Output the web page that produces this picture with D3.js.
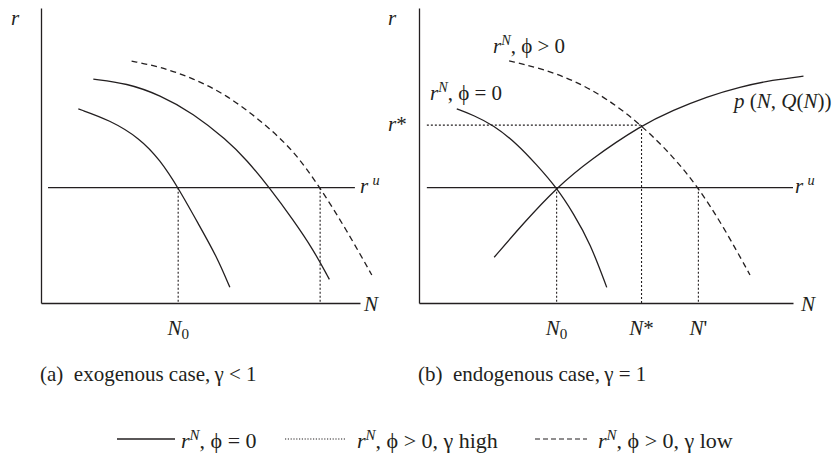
<!DOCTYPE html>
<html>
<head>
<meta charset="utf-8">
<script src="https://cdn.jsdelivr.net/npm/d3@7"></script>
<style>
  body { margin: 0; background: #fff; }
  svg text { font-family: "Liberation Serif", "Times New Roman", Times, serif; fill: #231f20; }
</style>
</head>
<body>
<svg id="chart" width="836" height="456"></svg>
<script>
// ---- data (N on 0..100, r on 0..100) ----
const ruLevel = 39.1;      // r^u, both panels
const rStar = 60.3;        // r*, panel (b)

// panel (a)
const aInner = [[11.7,65.8],[21.6,62.0],[31.0,55.8],[37.3,48.5],[43.0,39.1],[49.8,25.9],[55.1,15.7],[59.2,5.3]];
const aMiddle = [[16.4,75.9],[26.9,74.5],[37.3,70.5],[47.7,64.3],[58.2,55.3],[64.5,48.5],[71.6,39.1],[79.1,28.1],[85.4,18.0],[90.4,8.0]];
const aDashed = [[28.4,82.0],[37.3,80.1],[47.7,76.2],[58.2,70.5],[68.7,62.0],[79.1,51.9],[87.5,39.1],[95.8,24.7],[103.7,9.5]];
const aDrops = [43.0, 87.5];
const aTickLabels = [{ n: 43.0, name: 'N', sub: '0' }];

// panel (b)
const bSolid = [[10.1,65.8],[14.5,63.7],[19.9,60.3],[26.1,54.1],[31.5,46.8],[36.8,39.1],[41.3,30.4],[45.8,20.2],[50.2,5.3]];
const bPrice = [[20.1,15.5],[27.9,27.0],[36.8,39.1],[45.7,48.5],[59.5,60.3],[68.0,65.4],[76.9,69.9],[85.8,73.3],[94.7,75.6],[102.8,76.9]];
const bDashed = [[24.1,82.1],[32.4,79.6],[41.3,75.6],[50.2,69.4],[59.5,60.3],[68.0,49.6],[74.7,39.1],[81.4,25.9],[88.5,9.5]];
const bDropsRu = [36.8, 74.7];
const bDropStar = 59.5;
const bTickLabels = [
  { n: 36.8, name: 'N', sub: '0' },
  { n: 59.5, name: 'N', tail: '*' },
  { n: 74.7, name: 'N', tail: "'" }
];

const INK = '#231f20';
const FONT = '"Liberation Serif", "Times New Roman", Times, serif';
const svg = d3.select('#chart');

const y = d3.scaleLinear().domain([0, 100]).range([303, 8]);
const xA = d3.scaleLinear().domain([0, 100]).range([41, 360]);
const xB = d3.scaleLinear().domain([0, 100]).range([419, 793]);

// rich text: parts = [{t, i, sup, sub}]
function richText(g, x, yy, parts, size = 21, anchor = 'start') {
  const t = g.append('text').attr('x', x).attr('y', yy)
    .attr('font-family', FONT)
    .attr('font-size', size).attr('text-anchor', anchor);
  let shift = 0;
  parts.forEach(p => {
    const s = t.append('tspan').text(p.t);
    if (p.i) s.attr('font-style', 'italic');
    let target = 0;
    if (p.sup) { target = -8; s.attr('font-size', size * 0.68); }
    if (p.sub) { target = 4; s.attr('font-size', size * 0.72); }
    if (target !== shift) { s.attr('dy', target - shift); shift = target; }
  });
  return t;
}

function panel(x, opts) {
  const g = svg.append('g');
  const line = d3.line().x(d => x(d[0])).y(d => y(d[1])).curve(d3.curveBasis);

  g.append('g').attr('transform', `translate(0,${y(0)})`)
    .call(d3.axisBottom(x).tickValues([]).tickSizeOuter(0));
  g.append('g').attr('transform', `translate(${x(0)},0)`)
    .call(d3.axisLeft(y).tickValues([]).tickSizeOuter(0));
  g.selectAll('.domain').attr('stroke', INK).attr('stroke-width', 1.3);

  // r^u line
  g.append('line')
    .attr('x1', x(opts.ruFrom)).attr('x2', x(opts.ruTo))
    .attr('y1', y(ruLevel)).attr('y2', y(ruLevel))
    .attr('stroke', INK).attr('stroke-width', 1.3);

  opts.curves.forEach(c => {
    g.append('path').datum(c.data).attr('d', line)
      .attr('fill', 'none').attr('stroke', INK).attr('stroke-width', 1.3)
      .attr('stroke-dasharray', c.dash || null);
  });

  opts.drops.forEach(d => {
    g.append('line')
      .attr('x1', x(d.n)).attr('x2', x(d.n))
      .attr('y1', y(d.r)).attr('y2', y(0))
      .attr('stroke', INK).attr('stroke-width', 1.1).attr('stroke-dasharray', '2,2');
  });

  opts.ticks.forEach(t => {
    const parts = [{ t: t.name, i: true }];
    if (t.sub) parts.push({ t: t.sub, sub: true });
    if (t.tail) parts.push({ t: t.tail });
    richText(g, x(t.n), 335, parts, 21, 'middle');
  });
  return g;
}

const gA = panel(xA, {
  ruFrom: 2.2, ruTo: 98.4,
  curves: [{ data: aInner }, { data: aMiddle }, { data: aDashed, dash: '6,4' }],
  drops: aDrops.map(n => ({ n, r: ruLevel })),
  ticks: aTickLabels
});
richText(gA, 11, 25, [{ t: 'r', i: true }]);
richText(gA, 364, 311, [{ t: 'N', i: true }]);
richText(gA, 360, 193, [{ t: 'r', i: true }, { t: '\u2009' }, { t: 'u', i: true, sup: true }]);

const gB = panel(xB, {
  ruFrom: 2.1, ruTo: 100,
  curves: [{ data: bSolid }, { data: bPrice }, { data: bDashed, dash: '6,4' }],
  drops: bDropsRu.map(n => ({ n, r: ruLevel })).concat([{ n: bDropStar, r: rStar }]),
  ticks: bTickLabels
});
gB.append('line')
  .attr('x1', xB(2.1)).attr('x2', xB(bDropStar))
  .attr('y1', y(rStar)).attr('y2', y(rStar))
  .attr('stroke', INK).attr('stroke-width', 1.1).attr('stroke-dasharray', '2,2');
richText(gB, 388, 25, [{ t: 'r', i: true }]);
richText(gB, 388, y(rStar) + 6, [{ t: 'r', i: true }, { t: '*' }]);
richText(gB, 801, 311, [{ t: 'N', i: true }]);
richText(gB, 795, 193, [{ t: 'r', i: true }, { t: '\u2009' }, { t: 'u', i: true, sup: true }]);
richText(gB, 493, 53, [{ t: 'r', i: true }, { t: 'N', i: true, sup: true }, { t: ', \u03D5 > 0' }]);
richText(gB, 430, 100, [{ t: 'r', i: true }, { t: 'N', i: true, sup: true }, { t: ', \u03D5 = 0' }]);
richText(gB, 734, 108, [{ t: 'p', i: true }, { t: ' (' }, { t: 'N', i: true }, { t: ', ' }, { t: 'Q', i: true }, { t: '(' }, { t: 'N', i: true }, { t: '))' }]);

// captions
richText(svg, 40, 381, [{ t: '(a)\u2002exogenous case,\u2009\u03B3 < 1' }]);
richText(svg, 418, 381, [{ t: '(b)\u2002endogenous case,\u2009\u03B3 = 1' }]);

// legend
const legendItems = [
  { x1: 117, x2: 175, dash: null, tx: 181, tail: ', \u03D5 = 0' },
  { x1: 285, x2: 345, dash: '1.2,1.6', tx: 357, tail: ', \u03D5 > 0, \u03B3 high' },
  { x1: 535, x2: 587, dash: '5,3', tx: 598, tail: ', \u03D5 > 0, \u03B3 low' }
];
legendItems.forEach(d => {
  svg.append('line').attr('x1', d.x1).attr('x2', d.x2).attr('y1', 439).attr('y2', 439)
    .attr('stroke', INK).attr('stroke-width', d.dash ? 1.1 : 1.3).attr('stroke-dasharray', d.dash);
  richText(svg, d.tx, 448, [{ t: 'r', i: true }, { t: 'N', i: true, sup: true }, { t: d.tail }], 22);
});
</script>
</body>
</html>
